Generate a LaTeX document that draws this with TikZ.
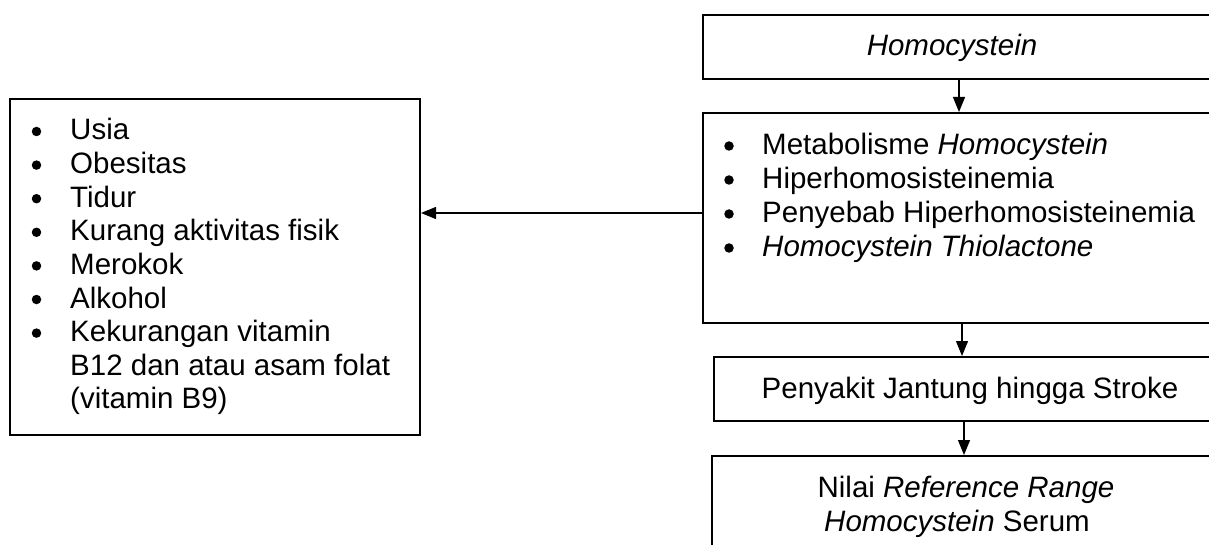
\documentclass[tikz,border=0pt]{standalone}
\usepackage{fontspec}
\setmainfont{Liberation Sans}
\usetikzlibrary{arrows.meta}
\begin{document}
\begin{tikzpicture}[x=1pt,y=-1pt,
  boxst/.style={draw=black,line width=2pt,rectangle,inner sep=0pt,anchor=north west},
  txt/.style={inner sep=0pt,anchor=base west,font=\fontsize{29.5}{34}\selectfont},
  ctxt/.style={inner sep=0pt,anchor=base,font=\fontsize{29.5}{34}\selectfont},
  bul/.style={circle,fill=black,inner sep=0pt,minimum size=9.5pt},
  conn/.style={line width=1.3pt,-{Triangle[length=15pt,width=12pt]}}]
\useasboundingbox (0,0) rectangle (1209,545);
\clip (0,0) rectangle (1209,545);
\fill[white] (0,0) rectangle (1209,545);
% boxes
\node[boxst,minimum width=513pt,minimum height=64pt] (top) at (702,14) {};
\node[boxst,minimum width=513pt,minimum height=210pt] (mid) at (702,112) {};
\node[boxst,minimum width=502pt,minimum height=64pt] (stroke) at (713,356) {};
\node[boxst,minimum width=504pt,minimum height=120pt] (nilai) at (711,455) {};
\node[boxst,minimum width=410pt,minimum height=336pt] (left) at (9,98) {};
% texts
\node[ctxt] (t1) at (952,56) {\itshape Homocystein};
\foreach \y/\t [count=\i] in {155/{Metabolisme \textit{Homocystein}},189/{Hiperhomosisteinemia},223/{Penyebab Hiperhomosisteinemia},257/{\textit{Homocystein Thiolactone}}}{
  \node[bul] (mb\i) at (729,\y-9) {};
  \node[txt] (mt\i) at (762,\y) {\t};
}
\node[ctxt] (t3) at (970,398) {Penyakit Jantung hingga Stroke};
\node[ctxt] (t4a) at (966,497) {Nilai \textit{Reference Range}};
\node[ctxt] (t4b) at (957,531) {\textit{Homocystein} Serum};
\foreach \y/\t [count=\i] in {140/Usia,173.6/Obesitas,207.2/Tidur,240.8/Kurang aktivitas fisik,274.4/Merokok,308/Alkohol,341.6/Kekurangan vitamin}{
  \node[bul] (lb\i) at (36.5,\y-8.5) {};
  \node[txt] (lt\i) at (70,\y) {\t};
}
\node[txt] (lt8) at (70,375.2) {B12 dan atau asam folat};
\node[txt] (lt9) at (70,408.8) {(vitamin B9)};
% connectors
\draw[conn] (top.south -| 959,0) -- (mid.north -| 959,0);
\draw[conn] (mid.south -| 962,0) -- (stroke.north -| 962,0);
\draw[conn] (stroke.south -| 964,0) -- (nilai.north -| 964,0);
\draw[conn] (mid.west |- 0,213) -- (left.east |- 0,213);
\end{tikzpicture}
\end{document}
